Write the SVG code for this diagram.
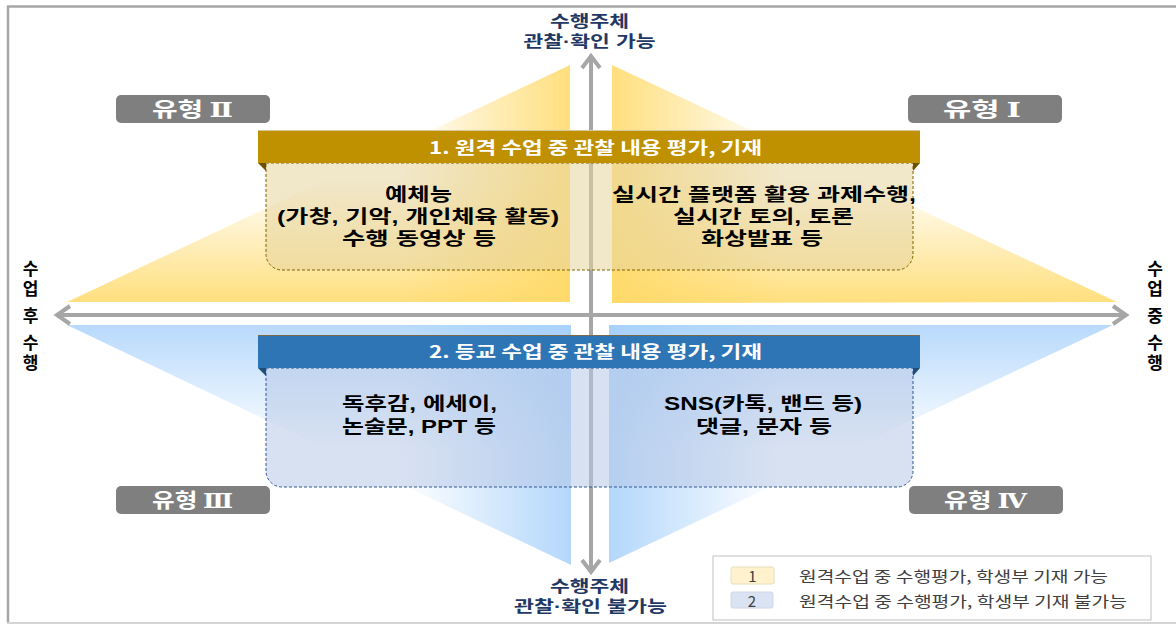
<svg xmlns="http://www.w3.org/2000/svg" width="1176" height="625" viewBox="0 0 1176 625">
<defs>
<linearGradient id="yV" gradientUnits="userSpaceOnUse" x1="0" y1="303" x2="0" y2="180"><stop offset="0" stop-color="#ffd966" stop-opacity="0.85"/><stop offset="1" stop-color="#ffd966" stop-opacity="0"/></linearGradient>
<linearGradient id="yHL" gradientUnits="userSpaceOnUse" x1="570" y1="0" x2="400" y2="0"><stop offset="0" stop-color="#ffd966" stop-opacity="0.85"/><stop offset="1" stop-color="#ffd966" stop-opacity="0"/></linearGradient>
<linearGradient id="yHR" gradientUnits="userSpaceOnUse" x1="612" y1="0" x2="782" y2="0"><stop offset="0" stop-color="#ffd966" stop-opacity="0.85"/><stop offset="1" stop-color="#ffd966" stop-opacity="0"/></linearGradient>
<linearGradient id="bV" gradientUnits="userSpaceOnUse" x1="0" y1="325" x2="0" y2="450"><stop offset="0" stop-color="#a6d0fb" stop-opacity="0.8"/><stop offset="1" stop-color="#a6d0fb" stop-opacity="0"/></linearGradient>
<linearGradient id="bHL" gradientUnits="userSpaceOnUse" x1="571" y1="0" x2="400" y2="0"><stop offset="0" stop-color="#a6d0fb" stop-opacity="0.85"/><stop offset="1" stop-color="#a6d0fb" stop-opacity="0"/></linearGradient>
<linearGradient id="bHR" gradientUnits="userSpaceOnUse" x1="609" y1="0" x2="780" y2="0"><stop offset="0" stop-color="#a6d0fb" stop-opacity="0.85"/><stop offset="1" stop-color="#a6d0fb" stop-opacity="0"/></linearGradient>
<style>
text{font-family:"Noto Sans CJK KR","Liberation Sans",sans-serif}
.ax{stroke:#a6a6a6;stroke-width:4;fill:none}
.tag rect{fill:#7f7f7f}
.tag text{fill:#fff;font-size:20px;font-weight:bold;text-anchor:middle}
.rn{font-family:"DejaVu Serif","Liberation Serif",serif;font-weight:bold}
.nav{font-family:"Liberation Sans","Noto Sans CJK KR",sans-serif;fill:#1f3864;font-size:16px;font-weight:bold;text-anchor:middle}
.side{fill:#000;font-size:17px;font-weight:bold;writing-mode:vertical-rl;letter-spacing:3px}
.body{font-family:"Liberation Sans","Noto Sans CJK KR",sans-serif;fill:#000;font-size:18px;font-weight:bold;text-anchor:middle}
.hd{fill:#fff;font-size:17px;font-weight:bold;text-anchor:middle}
.lg{fill:#404040;font-size:15px}
</style>
</defs>

<g id="frame">
<line x1="7" y1="6.5" x2="1176" y2="6.5" stroke="#a6a6a6" stroke-width="2.5"/>
<line x1="8" y1="6" x2="8" y2="623" stroke="#a6a6a6" stroke-width="2.5"/>
<line x1="7" y1="623" x2="1176" y2="623" stroke="#d4d4d4" stroke-width="2"/>
</g>

<g id="backdrops">
<polygon points="570,65 570,302 67,302" fill="url(#yV)"/>
<polygon points="570,65 570,302 67,302" fill="url(#yHL)"/>
<polygon points="612,65 612,303 1117,302" fill="url(#yV)"/>
<polygon points="612,65 612,303 1117,302" fill="url(#yHR)"/>
<polygon points="67,325 571,325 571,565" fill="url(#bV)"/>
<polygon points="67,325 571,325 571,565" fill="url(#bHL)"/>
<polygon points="609,325 1113,325 609,563" fill="url(#bV)"/>
<polygon points="609,325 1113,325 609,563" fill="url(#bHR)"/>
</g>

<g id="connectors">
<line class="ax" x1="591" y1="57" x2="591" y2="571"/>
<polyline class="ax" points="582,68 591,56 600,68"/>
<polyline class="ax" points="582,560 591,572 600,560"/>
<line class="ax" x1="56" y1="315" x2="1127" y2="315"/>
<polyline class="ax" points="70,306 57,315 70,324"/>
<polyline class="ax" points="1113,306 1126,315 1113,324"/>
</g>

<g id="group-1">
<path d="M266,163 H913 V254 A16,16 0 0 1 897,270 H282 A16,16 0 0 1 266,254 Z" fill="#e6d39c" fill-opacity="0.55" stroke="#7f6000" stroke-width="1" stroke-dasharray="3,2"/>
<rect x="258" y="130" width="662" height="33" fill="#bf9000"/>
<line x1="258" y1="130.5" x2="920" y2="130.5" stroke="#d8c8a0" stroke-width="1"/>
<polygon points="258,163 266,163 266,171" fill="#6b5000"/>
<polygon points="913,163 920,163 913,171" fill="#6b5000"/>
<text class="hd" x="595.5" y="154" textLength="333" lengthAdjust="spacingAndGlyphs">1. 원격 수업 중 관찰 내용 평가, 기재</text>
</g>

<g id="group-2">
<path d="M266,368 H913 V471 A16,16 0 0 1 897,487 H282 A16,16 0 0 1 266,471 Z" fill="#b8c8e6" fill-opacity="0.55" stroke="#2f5597" stroke-width="1" stroke-dasharray="3,2"/>
<rect x="258" y="335" width="662" height="33" fill="#2e75b6"/>
<line x1="258" y1="335.5" x2="920" y2="335.5" stroke="#7a6a4a" stroke-width="1"/>
<polygon points="258,368 266,368 266,376" fill="#1f4e79"/>
<polygon points="913,368 920,368 913,376" fill="#1f4e79"/>
<text class="hd" x="595.5" y="358" textLength="333" lengthAdjust="spacingAndGlyphs">2. 등교 수업 중 관찰 내용 평가, 기재</text>
</g>

<g id="content-II">
<text class="body" x="418.5" y="201" textLength="67" lengthAdjust="spacingAndGlyphs">예체능</text>
<text class="body" x="418" y="223" textLength="282" lengthAdjust="spacingAndGlyphs">(가창, 기악, 개인체육 활동)</text>
<text class="body" x="419" y="245" textLength="154" lengthAdjust="spacingAndGlyphs">수행 동영상 등</text>
</g>
<g id="content-I">
<text class="body" x="764" y="201" textLength="304" lengthAdjust="spacingAndGlyphs">실시간 플랫폼 활용 과제수행,</text>
<text class="body" x="763.5" y="223" textLength="181" lengthAdjust="spacingAndGlyphs">실시간 토의, 토론</text>
<text class="body" x="762" y="245" textLength="122" lengthAdjust="spacingAndGlyphs">화상발표 등</text>
</g>
<g id="content-III">
<text class="body" x="419.5" y="410" textLength="155" lengthAdjust="spacingAndGlyphs">독후감, 에세이,</text>
<text class="body" x="419" y="433" textLength="154" lengthAdjust="spacingAndGlyphs">논술문, PPT 등</text>
</g>
<g id="content-IV">
<text class="body" x="763" y="410" textLength="198" lengthAdjust="spacingAndGlyphs">SNS(카톡, 밴드 등)</text>
<text class="body" x="764" y="433" textLength="136" lengthAdjust="spacingAndGlyphs">댓글, 문자 등</text>
</g>

<g id="type-II" class="tag"><rect x="116" y="95" width="154" height="28" rx="5"/><text x="192.5" y="117" textLength="81" lengthAdjust="spacingAndGlyphs">유형 <tspan class="rn">Ⅱ</tspan></text></g>
<g id="type-I" class="tag"><rect x="908" y="95" width="154" height="28" rx="5"/><text x="982" y="117" textLength="78" lengthAdjust="spacingAndGlyphs">유형 <tspan class="rn">Ⅰ</tspan></text></g>
<g id="type-III" class="tag"><rect x="116" y="486" width="154" height="28" rx="5"/><text x="192.5" y="508" textLength="81" lengthAdjust="spacingAndGlyphs">유형 <tspan class="rn">Ⅲ</tspan></text></g>
<g id="type-IV" class="tag"><rect x="909" y="486" width="154" height="28" rx="5"/><text x="985.5" y="508" textLength="83" lengthAdjust="spacingAndGlyphs">유형 <tspan class="rn">Ⅳ</tspan></text></g>

<g id="label-top">
<text class="nav" x="589.5" y="27" textLength="79" lengthAdjust="spacingAndGlyphs">수행주체</text>
<text class="nav" x="589.5" y="47" textLength="132" lengthAdjust="spacingAndGlyphs">관찰·확인 가능</text>
</g>
<g id="label-bottom">
<text class="nav" x="589.5" y="592" textLength="79" lengthAdjust="spacingAndGlyphs">수행주체</text>
<text class="nav" x="590.5" y="612" textLength="153" lengthAdjust="spacingAndGlyphs">관찰·확인 불가능</text>
</g>
<g id="label-left">
<text class="side" x="30.5" y="260">수업 후 수행</text>
</g>
<g id="label-right">
<text class="side" x="1155" y="260">수업 중 수행</text>
</g>

<g id="legend">
<rect x="713" y="556" width="438" height="64" fill="#fff" stroke="#bfbfbf" stroke-width="1"/>
<rect x="731" y="567" width="43" height="17" rx="2" fill="#fff2cc" stroke="#e6dcc0"/>
<text class="lg" x="752.5" y="582" text-anchor="middle" font-size="17">1</text>
<rect x="731" y="592" width="42" height="16" rx="2" fill="#dae3f3" stroke="#cfd6e4"/>
<text class="lg" x="752" y="607" text-anchor="middle" font-size="17">2</text>
<text class="lg" x="799" y="582" textLength="309" lengthAdjust="spacingAndGlyphs">원격수업 중 수행평가, 학생부 기재 가능</text>
<text class="lg" x="799" y="607" textLength="328" lengthAdjust="spacingAndGlyphs">원격수업 중 수행평가, 학생부 기재 불가능</text>
</g>
</svg>
